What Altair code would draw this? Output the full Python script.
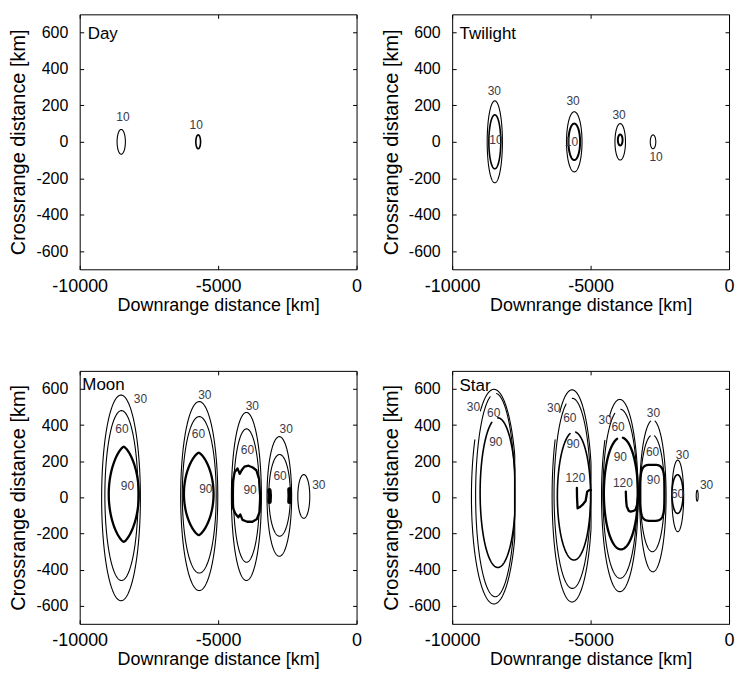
import altair as alt
import numpy as np
import pandas as pd

# ---------------- data ----------------
PANELS = ["Day", "Twilight", "Moon", "Star"]
PANEL_TITLE_X = [-9710, -9732, -9906, -9732]
PANEL_TITLE_Y = [565, 565, 593, 589]

X_TICKS = [-10000, -5000, 0]
Y_TICKS = [-600, -400, -200, 0, 200, 400, 600]

# smooth (elliptical) contours: panel, level, centre, half-axes
C_PANEL = ["Day", "Day",
           "Twilight", "Twilight", "Twilight", "Twilight", "Twilight", "Twilight", "Twilight",
           "Moon", "Moon", "Moon", "Moon", "Moon", "Moon", "Moon", "Moon", "Moon", "Moon", "Moon",
           "Star", "Star", "Star", "Star", "Star", "Star", "Star", "Star", "Star",
           "Star", "Star", "Star", "Star", "Star", "Star"]
C_LEVEL = [10, 10,
           30, 10, 30, 10, 30, 10, 10,
           30, 60, 90, 30, 60, 90, 30, 60, 30, 60, 30,
           30, 60, 90, 30, 60, 90, 30, 60, 90,
           30, 60, 90, 30, 60, 30]
C_CX = [-8500, -5720,
        -8460, -8460, -5590, -5590, -3930, -3930, -2745,
        -8508, -8491, -8409, -5683, -5682, -5700, -3979, -3975, -2790, -2780, -1906,
        -8490, -8444, -8350, -5670, -5660, -5600, -3945, -3935, -3905,
        -2752, -2768, -2770, -1852, -1860, -1150]
C_CY = [0, 0,
        0, 0, 0, 0, 0, 10, 0,
        -3, 10, 17, 7, 14, 19, 5, 10, 5, 11, 5,
        4, 13, 26, 8, 22, 8, 10, 20, 22,
        8, 22, 25, 8, 18, 9]
C_A = [150, 85,
       275, 215, 280, 210, 190, 85, 100,
       700, 600, 542, 670, 612, 535, 542, 470, 445, 390, 216,
       814, 709, 640, 720, 660, 600, 660, 620, 615,
       478, 438, 436, 214, 200, 35]
C_B = [68, 38,
       225, 148, 165, 100, 100, 30, 38,
       569, 470, 263, 523, 433, 228, 465, 369, 331, 226, 121,
       594, 563, 414, 587, 526, 355, 532, 468, 310,
       420, 323, 155, 198, 107, 30]
# shape exponents (2 = ellipse)
C_PX = [2, 2,
        2, 2, 2, 2, 2, 2, 2,
        2, 2, 1.4, 2, 2, 1.4, 2, 2, 2, 2, 2,
        2, 2, 2, 2, 2, 2, 2, 2, 2,
        2, 2, 4, 2, 2, 2]
C_PY = [2, 2,
        2, 2, 2, 2, 2, 2, 2,
        2, 2, 2, 2, 2, 2, 2, 2, 2, 2, 2,
        2, 2, 2, 2, 2, 2, 2, 2, 2,
        2, 2, 4, 2, 2, 2]
# right-hand flat edge of the Star contours (None = no flat edge)
C_XMAX = [None, None,
          None, None, None, None, None, None, None,
          None, None, None, None, None, None, None, None, None, None, None,
          -7740, -7740, -7740, -4985, -4985, -4985, -3290, -3290, -3290,
          None, None, None, None, None, None]
# label gaps in the line, degrees (equal = closed)
C_GAP0 = [0, 0,
          0, 0, 0, 0, 0, 0, 0,
          0, 0, 0, 0, 0, 0, 0, 0, 0, 0, 0,
          127, 86, 90, 128, 90, 84, 125, 88, 83,
          80, 80, 0, 0, 0, 0]
C_GAP1 = [0, 0,
          0, 0, 0, 0, 0, 0, 0,
          0, 0, 0, 0, 0, 0, 0, 0, 0, 0, 0,
          148, 105, 110, 148, 110, 104, 145, 108, 103,
          100, 100, 0, 0, 0, 0]
C_WEIGHT = ["thin", "mid",
            "thin", "mid", "thin", "bold", "thin", "bold", "thin",
            "thin", "thin", "heavy", "thin", "thin", "heavy", "thin", "thin", "thin", "thin", "thin",
            "thin", "thin", "mid", "thin", "thin", "mid", "thin", "thin", "heavy",
            "thin", "thin", "heavy", "thin", "mid", "thin"]

# irregular contour pieces
IRR_PANEL = ["Moon", "Moon", "Moon", "Star", "Star"]
IRR_LEVEL = [90, 90, 90, 120, 120]
IRR_X = [
    [-4490, -4470, -4400, -4300, -4220, -4150, -4050, -3900, -3750, -3620, -3520, -3480,
     -3500, -3600, -3760, -3950, -4120, -4200, -4270, -4380, -4460, -4490],
    [-3150, -3135, -3145],
    [-2425, -2415, -2425],
    [-5495, -5490, -5470, -5400, -5296, -5180, -5122, -5050, -4985],
    [-3728, -3715, -3693, -3620, -3554, -3450, -3380, -3320, -3290],
]
IRR_Y = [
    [0, 90, 140, 160, 130, 150, 170, 175, 165, 150, 100, 0,
     -80, -120, -135, -135, -125, -95, -110, -90, -60, 0],
    [40, 10, -25],
    [45, 10, -25],
    [52, 0, -61, -55, -42, -20, 32, 40, 40],
    [32, -20, -51, -75, -79, -75, -70, -40, 0],
]
IRR_WEIGHT = ["heavy", "blob", "blob", "heavy", "heavy"]

# contour labels
L_PANEL = ["Day", "Day",
           "Twilight", "Twilight", "Twilight", "Twilight", "Twilight", "Twilight",
           "Moon", "Moon", "Moon", "Moon", "Moon", "Moon", "Moon", "Moon", "Moon", "Moon", "Moon", "Moon",
           "Star", "Star", "Star", "Star", "Star", "Star", "Star", "Star", "Star", "Star", "Star",
           "Star", "Star", "Star", "Star", "Star", "Star"]
L_TEXT = ["10", "10",
          "30", "10", "30", "10", "30", "10",
          "30", "60", "90", "30", "60", "90", "30", "60", "90", "30", "60", "30",
          "30", "60", "90", "30", "60", "90", "120", "30", "60", "90", "120",
          "30", "60", "90", "30", "60", "30"]
L_X = [-8440, -5790,
       -8477, -8420, -5634, -5690, -3972, -2637,
       -7808, -8472, -8276, -5479, -5710, -5444, -3766, -3941, -3846, -2542, -2762, -1364,
       -9233, -8502, -8422, -6331, -5749, -5634, -5551, -4471, -4007, -3927, -3833,
       -2728, -2763, -2728, -1683, -1857, -812]
L_Y = [136, 91,
       277, 9, 222, 0, 145, -82,
       544, 377, 61, 566, 348, 46, 503, 262, 39, 377, 120, 70,
       502, 465, 308, 493, 441, 294, 105, 429, 391, 225, 78,
       465, 253, 96, 235, 19, 69]

# ---------------- styling ----------------
WEIGHT_WIDTH = {"thin": 1.1, "mid": 1.6, "bold": 2.0, "heavy": 2.3, "blob": 4.5}
FONT = "Liberation Sans"
W = 278
H_TOP = 256
H_BOT = 254
H_SPACING = 18
V_SPACING = 55

# ---------------- build tables ----------------
rows = []
cid = 0
for i in range(len(C_PANEL)):
    g0, g1 = C_GAP0[i], C_GAP1[i]
    if g1 > g0:
        t = np.radians(np.linspace(g1, g0 + 360, 300))
    else:
        t = np.radians(np.linspace(0, 360, 300))
    c, s = np.cos(t), np.sin(t)
    x = C_CX[i] + C_A[i] * np.sign(c) * np.abs(c) ** (2.0 / C_PX[i])
    y = C_CY[i] + C_B[i] * np.sign(s) * np.abs(s) ** (2.0 / C_PY[i])
    if C_XMAX[i] is not None:
        x = np.minimum(x, C_XMAX[i])
    for k, (xx, yy) in enumerate(zip(x, y)):
        rows.append({"panel": C_PANEL[i], "cid": cid, "k": k, "x": float(xx), "y": float(yy),
                     "w": WEIGHT_WIDTH[C_WEIGHT[i]]})
    cid += 1
for i in range(len(IRR_PANEL)):
    for k, (xx, yy) in enumerate(zip(IRR_X[i], IRR_Y[i])):
        rows.append({"panel": IRR_PANEL[i], "cid": cid, "k": k, "x": xx, "y": yy,
                     "w": WEIGHT_WIDTH[IRR_WEIGHT[i]]})
    cid += 1
lines_df = pd.DataFrame(rows)
labels_df = pd.DataFrame({"panel": L_PANEL, "t": L_TEXT, "x": L_X, "y": L_Y})
titles_df = pd.DataFrame({"panel": PANELS, "x": PANEL_TITLE_X, "y": PANEL_TITLE_Y})

xs = alt.Scale(domain=[-10000, 0], nice=False, zero=False)
ys = alt.Scale(domain=[-700, 700], nice=False, zero=False)


def tick_axis(orient, values):
    return alt.Axis(orient=orient, values=values, labels=False, domain=False, grid=False,
                    ticks=True, tickSize=4, offset=-4, title=None, tickColor="black")


def make_panel(name, h):
    x_main = alt.Axis(orient="bottom", values=X_TICKS, title="Downrange distance [km]",
                      ticks=False, domain=False, grid=False, labelFlush=False,
                      labelOverlap=False, labelPadding=8, titlePadding=1,
                      labelExpr="datum.value + ''", labelFontSize=18, titleFontSize=18)
    y_main = alt.Axis(orient="left", values=Y_TICKS, title="Crossrange distance [km]",
                      ticks=False, domain=False, grid=False, labelOverlap=False,
                      labelPadding=12, titlePadding=7,
                      labelExpr="datum.value + ''", labelFontSize=16, titleFontSize=20)
    lines = alt.Chart(lines_df[lines_df.panel == name]).mark_line(
        color="black", strokeJoin="round", strokeCap="round", clip=True
    ).encode(
        x=alt.X("x:Q", scale=xs, axis=x_main),
        y=alt.Y("y:Q", scale=ys, axis=y_main),
        detail="cid:N",
        order="k:Q",
        strokeWidth=alt.StrokeWidth("w:Q", scale=None),
    )
    labs = alt.Chart(labels_df[labels_df.panel == name]).mark_text(
        font=FONT, fontSize=12, color="#3a3a48", align="center", baseline="middle"
    ).encode(
        x=alt.X("x:Q", scale=xs, axis=tick_axis("bottom", X_TICKS)),
        y=alt.Y("y:Q", scale=ys, axis=tick_axis("left", Y_TICKS)),
        text="t:N",
    )
    ttl = alt.Chart(titles_df[titles_df.panel == name]).mark_text(
        font=FONT, fontSize=17, color="black", align="left", baseline="alphabetic"
    ).encode(
        x=alt.X("x:Q", scale=xs, axis=tick_axis("top", X_TICKS)),
        y=alt.Y("y:Q", scale=ys, axis=tick_axis("right", Y_TICKS)),
        text="panel:N",
    )
    return alt.layer(lines, labs, ttl).resolve_axis(x="independent", y="independent").properties(
        width=W, height=h)


top = alt.hconcat(make_panel("Day", H_TOP), make_panel("Twilight", H_TOP), spacing=H_SPACING)
bottom = alt.hconcat(make_panel("Moon", H_BOT), make_panel("Star", H_BOT), spacing=H_SPACING)
chart = alt.vconcat(top, bottom, spacing=V_SPACING).properties(
    padding={"left": 0, "top": 4, "right": 0, "bottom": 0}
).configure_view(stroke="black", strokeWidth=1).configure_axis(
    labelFont=FONT, labelColor="black",
    titleFont=FONT, titleFontWeight="normal", titleColor="black",
    grid=False,
)

chart.save("out.html", embed_options={"renderer": "svg", "actions": False})
